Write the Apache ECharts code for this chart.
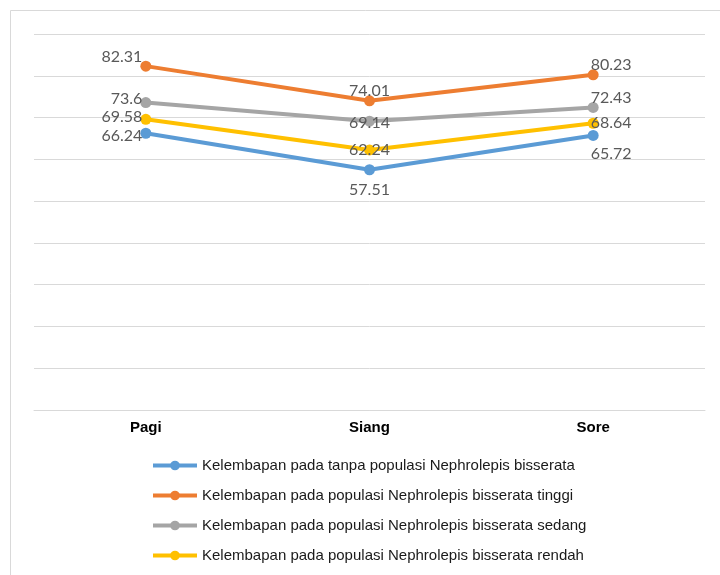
<!DOCTYPE html>
<html>
<head>
<meta charset="utf-8">
<script src="https://cdn.jsdelivr.net/npm/echarts@6/dist/echarts.min.js"></script>
<style>
    html, body { margin: 0; padding: 0; background: #fff; }
    #chart { width: 720px; height: 575px; }
</style>
</head>
<body>
<div id="chart"></div>
<script>
// waktu pengamatan
var waktu = ['Pagi', 'Siang', 'Sore'];
var namaSeri = [
    'Kelembapan pada tanpa populasi Nephrolepis bisserata',
    'Kelembapan pada populasi Nephrolepis bisserata tinggi',
    'Kelembapan pada populasi Nephrolepis bisserata sedang',
    'Kelembapan pada populasi Nephrolepis bisserata rendah'
];
var tanpa = [66.24, 57.51, 65.72];
var tinggi = [82.31, 74.01, 80.23];
var sedang = [73.6, 69.14, 72.43];
var rendah = [69.58, 62.24, 68.64];
var warna = ['#5B9BD5', '#ED7D31', '#A5A5A5', '#FFC000'];

// posisi label tiap titik (pagi, siang, sore)
var posLabel = [
    [{position: 'left', distance: -2, offset: [0, 3]}, {position: 'bottom', distance: 7}, {position: 'bottom', distance: 5, offset: [18, 0]}],
    [{position: 'left', distance: -2, offset: [0, -9]}, {position: 'top', distance: -4}, {position: 'top', distance: -4, offset: [18, 0]}],
    [{position: 'left', distance: -2, offset: [0, -4]}, {position: 'inside', offset: [0, 2]}, {position: 'top', distance: -4, offset: [18, 0]}],
    [{position: 'left', distance: -2, offset: [0, -2]}, {position: 'inside'}, {position: 'inside', offset: [18, 0]}]
];

function buatData(arr, idx) {
    var hasil = [];
    for (var i = 0; i < arr.length; i++) {
        var p = posLabel[idx][i];
        hasil.push({
            value: arr[i],
            label: {
                position: p.position,
                distance: p.distance !== undefined ? p.distance : 5,
                offset: p.offset || [0, 0]
            }
        });
    }
    return hasil;
}

function buatSeri(nama, arr, idx) {
    return {
        name: nama,
        type: 'line',
        data: buatData(arr, idx),
        symbol: 'circle',
        symbolSize: 11,
        color: warna[idx],
        lineStyle: { width: 4, color: warna[idx] },
        itemStyle: { color: warna[idx] },
        label: {
            show: true,
            color: '#595959',
            fontFamily: 'Lato',
            fontSize: 16
        },
        emphasis: { disabled: true },
        animation: false,
        z: 2 + idx
    };
}

var myChart = echarts.init(document.getElementById('chart'));
var option = {
    backgroundColor: '#fff',
    graphic: [{
        type: 'rect',
        shape: { x: 10.5, y: 10.5, width: 740, height: 600 },
        style: { fill: 'none', stroke: '#d9d9d9', lineWidth: 1 },
        silent: true
    }],
    grid: { left: 34, right: 15, top: 34, bottom: 165 },
    legend: {
        orient: 'vertical',
        left: 146,
        top: 453,
        itemWidth: 44,
        itemHeight: 12,
        itemGap: 15,
        data: namaSeri,
        lineStyle: { width: 4 },
        textStyle: { fontFamily: 'Liberation Sans', fontSize: 15, color: '#1a1a1a' }
    },
    xAxis: {
        type: 'category',
        data: waktu,
        boundaryGap: true,
        axisLine: { show: true, lineStyle: { color: '#d9d9d9', width: 1 } },
        axisTick: { show: false },
        axisLabel: {
            margin: 10,
            color: '#000',
            fontWeight: 'bold',
            fontFamily: 'Liberation Sans',
            fontSize: 15
        }
    },
    yAxis: {
        type: 'value',
        min: 0,
        max: 90,
        interval: 10,
        axisLine: { show: false },
        axisTick: { show: false },
        axisLabel: { show: false },
        splitLine: { lineStyle: { color: '#d9d9d9', width: 1 } }
    },
    series: [
        buatSeri(namaSeri[0], tanpa, 0),
        buatSeri(namaSeri[1], tinggi, 1),
        buatSeri(namaSeri[2], sedang, 2),
        buatSeri(namaSeri[3], rendah, 3)
    ]
};
myChart.setOption(option);
</script>
</body>
</html>
